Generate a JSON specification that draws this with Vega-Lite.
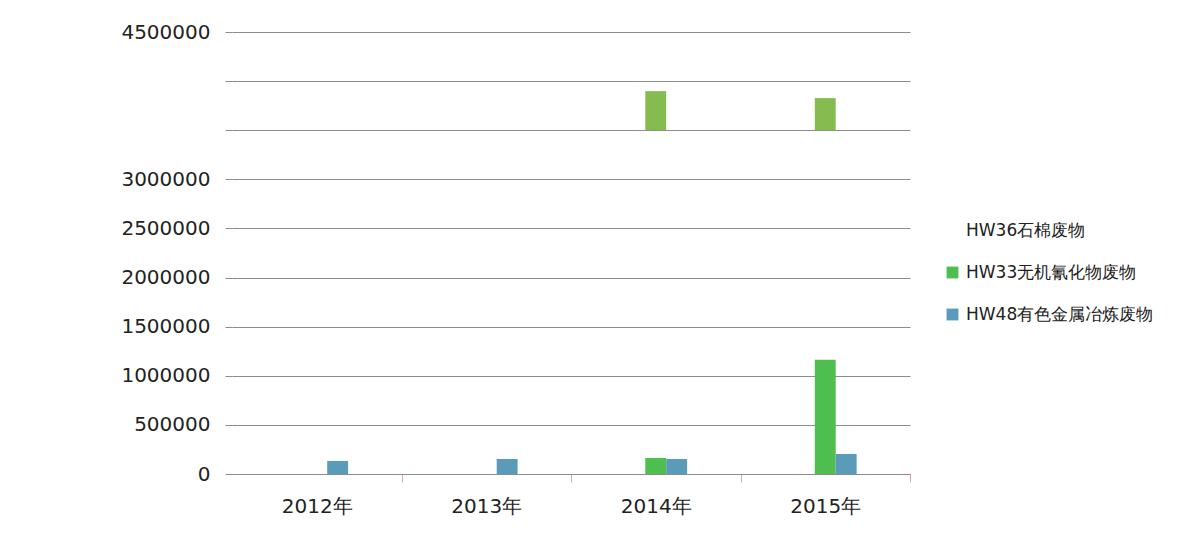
{
  "$schema": "https://vega.github.io/schema/vega-lite/v6.json",
  "width": 678,
  "height": 442,
  "autosize": {"type": "none"},
  "padding": {"left": 232, "top": 32, "right": 269, "bottom": 62},
  "background": "white",
  "config": {
    "view": {"stroke": null},
    "font": "DejaVu Sans",
    "axis": {"labelFont": "DejaVu Sans", "labelColor": "#222222", "labelFontSize": 20, "titleFontSize": 20}
  },
  "datasets": {
    "main": [
      {"year": "2012年", "series": "HW36石棉废物", "value": 0},
      {"year": "2012年", "series": "HW33无机氰化物废物", "value": 0},
      {"year": "2012年", "series": "HW48有色金属冶炼废物", "value": 133000},
      {"year": "2013年", "series": "HW36石棉废物", "value": 0},
      {"year": "2013年", "series": "HW33无机氰化物废物", "value": 0},
      {"year": "2013年", "series": "HW48有色金属冶炼废物", "value": 153000},
      {"year": "2014年", "series": "HW36石棉废物", "value": 0},
      {"year": "2014年", "series": "HW33无机氰化物废物", "value": 163000},
      {"year": "2014年", "series": "HW48有色金属冶炼废物", "value": 153000},
      {"year": "2015年", "series": "HW36石棉废物", "value": 0},
      {"year": "2015年", "series": "HW33无机氰化物废物", "value": 1163000},
      {"year": "2015年", "series": "HW48有色金属冶炼废物", "value": 204000}
    ],
    "top": [
      {"year": "2014年", "series": "HW33无机氰化物废物", "low": 3500000, "high": 3898000},
      {"year": "2015年", "series": "HW33无机氰化物废物", "low": 3500000, "high": 3827000}
    ]
  },
  "layer": [
    {
      "data": {"name": "main"},
      "mark": {"type": "bar"},
      "encoding": {
        "x": {
          "field": "year", "type": "nominal", "sort": ["2012年", "2013年", "2014年", "2015年"],
          "scale": {"paddingInner": 0.63, "paddingOuter": 0.315},
          "axis": {"title": null, "labelAngle": 0, "tickOffset": 84.75, "labelOffset": -84.75, "tickSize": 8, "tickColor": "#d8a8a8", "domainColor": "#8c8c8c", "labelPadding": 14, "grid": false}
        },
        "xOffset": {
          "field": "series", "type": "nominal",
          "scale": {"domain": ["HW36石棉废物", "HW33无机氰化物废物", "HW48有色金属冶炼废物"], "paddingInner": 0, "paddingOuter": 0}
        },
        "y": {
          "field": "value", "type": "quantitative",
          "scale": {"domain": [0, 4500000], "nice": false},
          "axis": {
            "title": null, "values": [0, 500000, 1000000, 1500000, 2000000, 2500000, 3000000, 3500000, 4000000, 4500000],
            "format": "d", "labelExpr": "datum.value == 3500000 || datum.value == 4000000 ? '' : datum.label",
            "grid": true, "gridColor": "#8c8c8c", "gridWidth": 1, "domain": false,
            "tickSize": 7, "tickColor": "#8c8c8c", "labelPadding": 15, "labelOverlap": false, "labelFlush": false
          }
        },
        "color": {
          "field": "series", "type": "nominal",
          "scale": {"domain": ["HW36石棉废物", "HW33无机氰化物废物", "HW48有色金属冶炼废物"], "range": ["#ffffff", "#4EBE4E", "#5A9BBA"]},
          "legend": {
            "title": null, "orient": "none", "legendX": 712, "legendY": 190,
            "symbolType": "square", "symbolSize": 140, "symbolStrokeWidth": 0,
            "labelFontSize": 17, "labelFont": "DejaVu Sans", "labelColor": "#222222", "labelLimit": 500, "labelOffset": 5,
            "rowPadding": 24
          }
        }
      }
    },
    {
      "data": {"name": "top"},
      "mark": {"type": "bar", "color": "#86BC4F"},
      "encoding": {
        "x": {"field": "year", "type": "nominal", "sort": ["2012年", "2013年", "2014年", "2015年"]},
        "xOffset": {"field": "series", "type": "nominal"},
        "y": {"field": "low", "type": "quantitative"},
        "y2": {"field": "high"}
      }
    }
  ]
}
